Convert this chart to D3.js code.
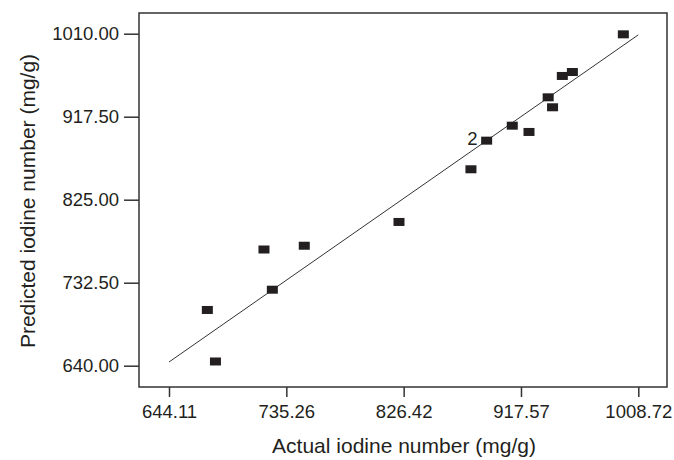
<!DOCTYPE html>
<html>
<head>
<meta charset="utf-8">
<script src="https://d3js.org/d3.v7.min.js"></script>
<style>
  body { margin: 0; background: #fff; }
  text { font-family: "Liberation Sans", Arial, sans-serif; fill: #231f20; }
</style>
</head>
<body>
<svg id="chart" width="674" height="460"></svg>
<script>
// actual vs predicted iodine number (mg/g)
const actual    = [673.9, 680.2, 717.9, 724.4, 749.2, 822.8, 878.7, 890.9, 910.8, 923.8, 938.7, 942.1, 949.7, 957.5, 997.1];
const predicted = [702.1, 644.7, 769.5, 724.7, 773.7, 800.2, 858.9, 890.8, 907.5, 900.5, 939.1, 928.0, 962.9, 967.3, 1009.3];
const counts    = [1, 1, 1, 1, 1, 1, 1, 2, 1, 1, 1, 1, 1, 1, 1];
const xTicks = [644.11, 735.26, 826.42, 917.57, 1008.72];
const yTicks = [640.00, 732.50, 825.00, 917.50, 1010.00];

const svg = d3.select("#chart");
const box = { left: 139, right: 667, top: 13, bottom: 387 };

// ranges set so the ticks land where the reference has them
const x = d3.scaleLinear().domain([644.11, 1008.72]).range([169, 638.3]);
const y = d3.scaleLinear().domain([640, 1010]).range([365.7, 33.7]);

svg.append("rect")
    .attr("x", box.left).attr("y", box.top)
    .attr("width", box.right - box.left).attr("height", box.bottom - box.top)
    .attr("fill", "none").attr("stroke", "#333").attr("stroke-width", 1.5);

const xAxis = svg.append("g")
    .attr("transform", `translate(0,${box.bottom})`)
    .call(d3.axisBottom(x).tickValues(xTicks).tickSize(10).tickSizeOuter(0).tickPadding(8)
        .tickFormat(d3.format(".2f")));
const yAxis = svg.append("g")
    .attr("transform", `translate(${box.left},0)`)
    .call(d3.axisLeft(y).tickValues(yTicks).tickSize(15).tickSizeOuter(0).tickPadding(5)
        .tickFormat(d3.format(".2f")));

[xAxis, yAxis].forEach(g => {
  g.select(".domain").remove();
  g.selectAll(".tick line").attr("stroke", "#333").attr("stroke-width", 1.5);
  g.selectAll(".tick text").attr("font-size", 18.5).attr("fill", "#231f20")
      .attr("font-family", "'Liberation Sans', Arial, sans-serif");
});

// y = x reference line
svg.append("line")
    .attr("x1", x(644.11)).attr("y1", y(644.11))
    .attr("x2", x(1008.72)).attr("y2", y(1008.72))
    .attr("stroke", "#333").attr("stroke-width", 1);

const pts = actual.map((a, i) => ({ a, p: predicted[i], n: counts[i] }));

svg.append("g").selectAll("rect")
    .data(pts)
    .enter().append("rect")
    .attr("x", d => x(d.a) - 5.5)
    .attr("y", d => y(d.p) - 4)
    .attr("width", 11).attr("height", 8)
    .attr("fill", "#231f20");

svg.append("g").selectAll("text")
    .data(pts.filter(d => d.n > 1))
    .enter().append("text")
    .attr("x", d => x(d.a) - 9)
    .attr("y", d => y(d.p) + 4)
    .attr("text-anchor", "end")
    .attr("font-size", 18.5)
    .text(d => d.n);

svg.append("text")
    .attr("x", (box.left + box.right) / 2 + 1)
    .attr("y", 453)
    .attr("text-anchor", "middle")
    .attr("font-size", 21)
    .text("Actual iodine number (mg/g)");

svg.append("text")
    .attr("transform", `translate(35,${(box.top + box.bottom) / 2 + 1}) rotate(-90)`)
    .attr("text-anchor", "middle")
    .attr("font-size", 21)
    .text("Predicted iodine number (mg/g)");
</script>
</body>
</html>
